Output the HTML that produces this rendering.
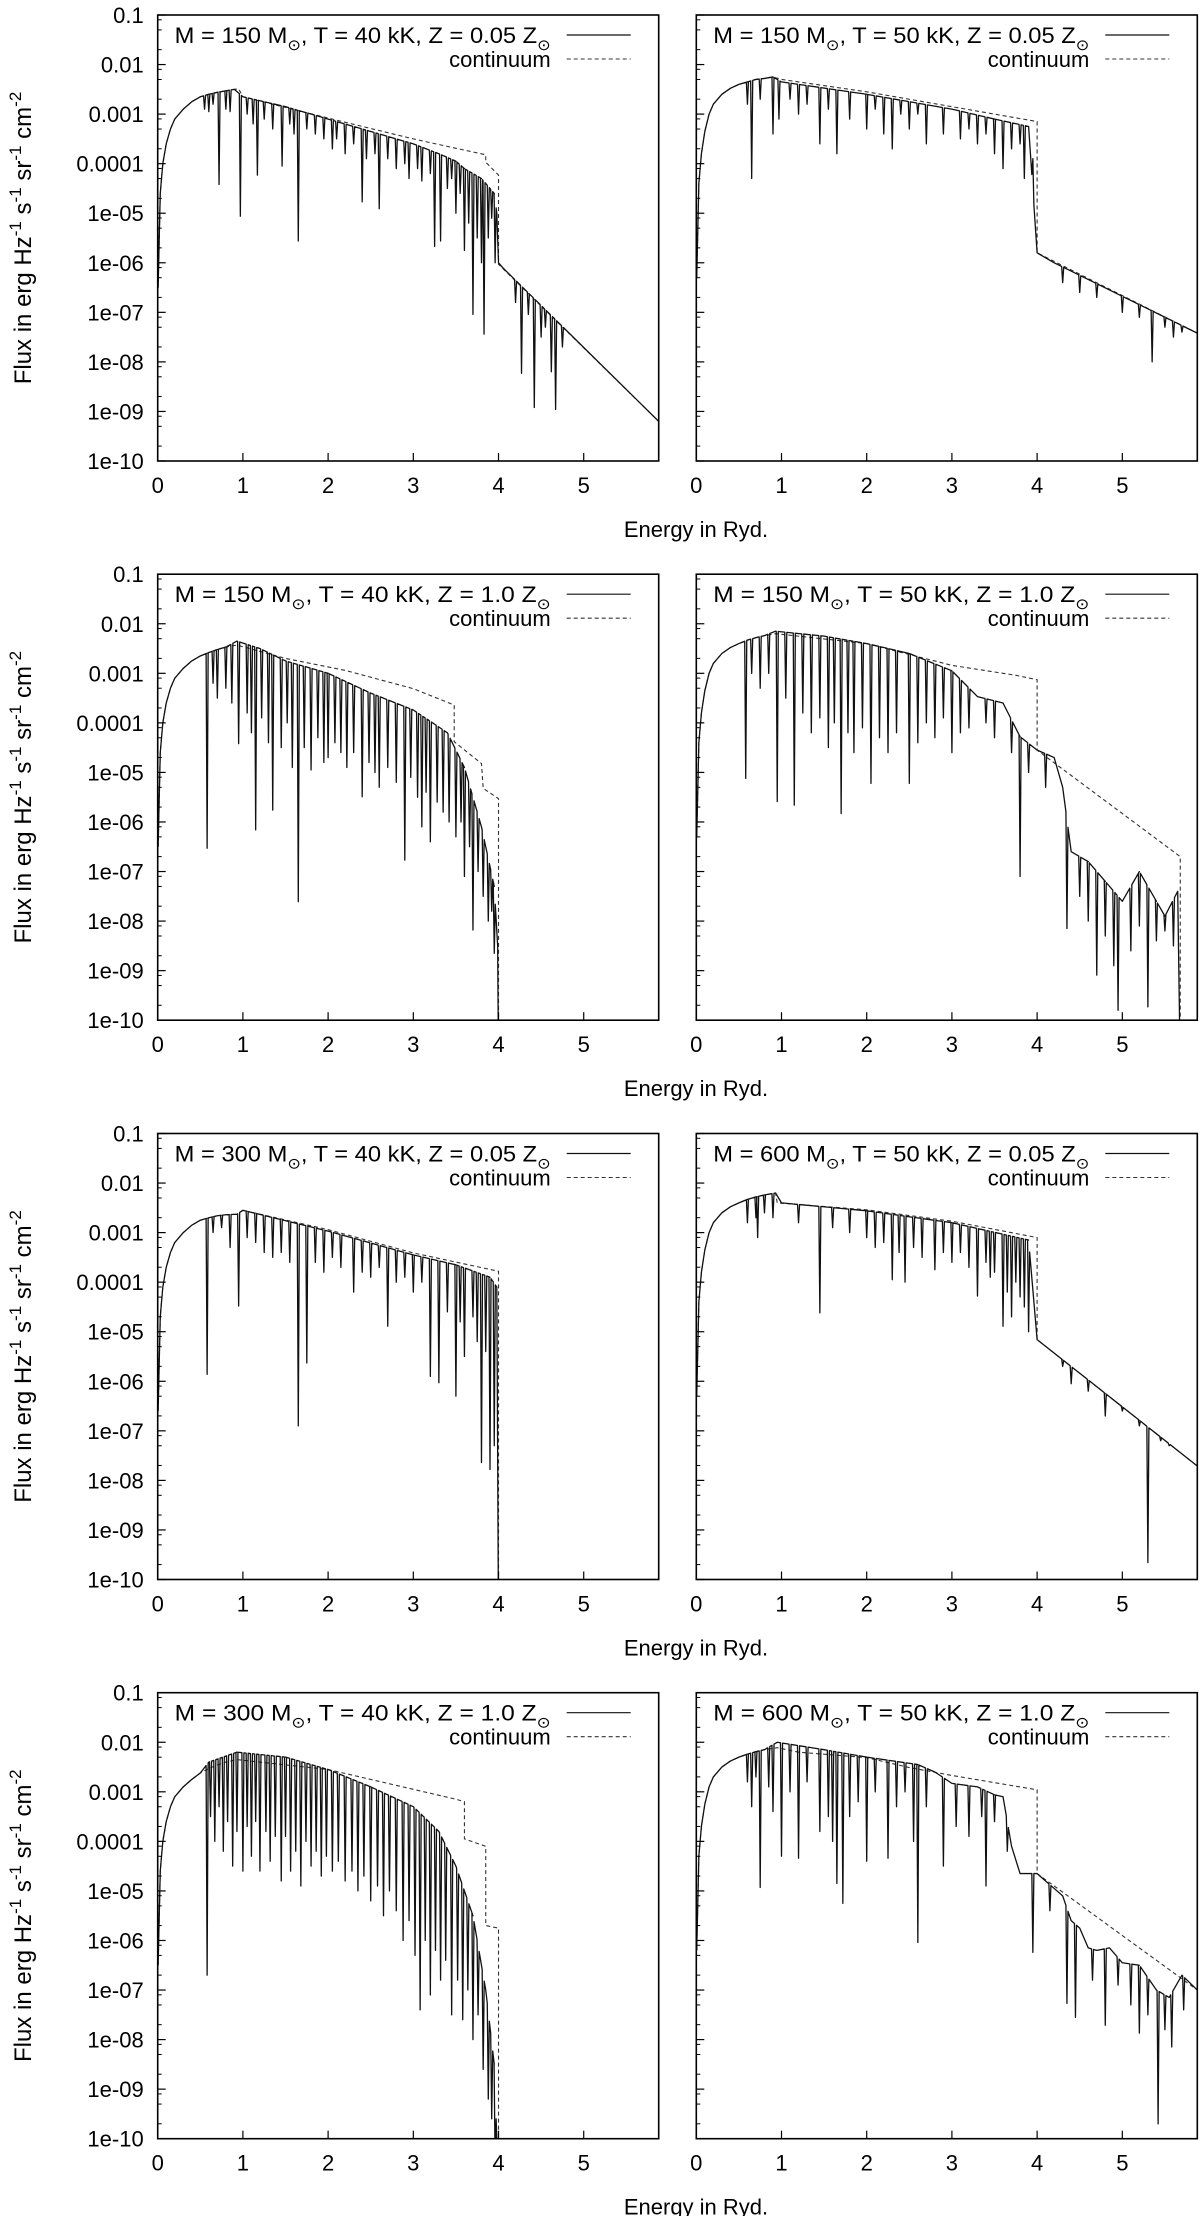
<!DOCTYPE html>
<html><head><meta charset="utf-8">
<style>
html,body{margin:0;padding:0;background:#fff;}
svg{display:block;font-family:"Liberation Sans",sans-serif;}
</style></head>
<body>
<svg id="fig" width="1200" height="2216" viewBox="0 0 1200 2216" xmlns="http://www.w3.org/2000/svg"></svg>
<script>
// ---------- data (E in Ryd, L = log10 flux) ----------
const xTicks=[0,1,2,3,4,5];
const yTickLabels=["0.1","0.01","0.001","0.0001","1e-05","1e-06","1e-07","1e-08","1e-09","1e-10"];
const yTickLogs=[-1,-2,-3,-4,-5,-6,-7,-8,-9,-10];
const panelTitles=[["150","40","0.05"],["150","50","0.05"],["150","40","1.0"],["150","50","1.0"],["300","40","0.05"],["600","50","0.05"],["300","40","1.0"],["600","50","1.0"]];

const p1ContE=[0.005,0.03,0.06,0.1,0.15,0.2,0.3,0.4,0.5,0.6,0.7,0.8,0.9,0.95,1.0,2.0,3.0,3.5,3.85,3.85,4.0,4.0,5.88];
const p1ContL=[-6.5,-4.6,-4.0,-3.6,-3.3,-3.1,-2.9,-2.75,-2.65,-2.6,-2.56,-2.53,-2.5,-2.49,-2.65,-3.08,-3.5,-3.69,-3.82,-3.97,-4.23,-6.03,-9.2];
const p1RidgeE=[0.005,0.03,0.06,0.1,0.15,0.2,0.3,0.4,0.5,0.6,0.7,0.8,0.9,1.0,1.5,2.0,2.5,3.0,3.3,3.5,3.6,3.8,3.95,3.98,4.0,4.05,5.88];
const p1RidgeL=[-6.5,-4.6,-4.0,-3.6,-3.3,-3.1,-2.9,-2.75,-2.65,-2.6,-2.56,-2.53,-2.5,-2.65,-2.85,-3.1,-3.35,-3.6,-3.8,-3.95,-4.1,-4.3,-4.6,-5.0,-6.0,-6.1,-9.2];
const p1DipE=[0.55,0.6,0.65,0.72,0.8,0.85,0.97,1.05,1.12,1.17,1.25,1.35,1.46,1.55,1.6,1.65,1.75,1.85,1.95,2.05,2.1,2.2,2.3,2.4,2.45,2.55,2.6,2.7,2.8,2.9,2.95,3.05,3.1,3.2,3.25,3.32,3.4,3.45,3.5,3.55,3.6,3.65,3.7,3.75,3.8,3.83,3.88,3.92,3.96,4.2,4.27,4.35,4.42,4.5,4.55,4.62,4.67,4.75];
const p1DipL=[-2.9,-2.95,-2.8,-4.42,-2.9,-2.95,-5.06,-3.0,-3.2,-4.23,-3.1,-3.3,-4.05,-3.2,-3.4,-5.56,-3.3,-3.4,-3.5,-3.7,-3.5,-3.8,-3.6,-4.77,-3.9,-3.8,-4.91,-3.9,-4.1,-4.0,-4.3,-4.1,-4.35,-4.2,-5.67,-5.56,-4.5,-4.3,-5.0,-4.6,-5.75,-5.2,-7.04,-5.5,-6.0,-7.44,-5.5,-5.1,-6.0,-6.8,-8.23,-7.04,-8.92,-7.5,-7.3,-8.2,-8.96,-7.7];

const p2ContE=[0.005,0.03,0.06,0.1,0.15,0.2,0.3,0.4,0.5,0.6,0.7,0.8,0.9,1.0,2.0,3.0,4.0,4.0,5.88];
const p2ContL=[-6.3,-4.4,-3.8,-3.35,-3.0,-2.8,-2.6,-2.48,-2.4,-2.35,-2.3,-2.28,-2.25,-2.3,-2.55,-2.85,-3.15,-5.8,-7.42];
const p2RidgeE=[0.005,0.03,0.06,0.1,0.15,0.2,0.3,0.4,0.5,0.6,0.7,0.8,0.9,1.0,2.0,3.0,3.5,3.9,4.0,4.2,5.88];
const p2RidgeL=[-6.3,-4.4,-3.8,-3.35,-3.0,-2.8,-2.6,-2.48,-2.4,-2.35,-2.3,-2.28,-2.25,-2.35,-2.6,-2.9,-3.1,-3.25,-5.8,-6.0,-7.42];
const p2DipE=[0.6,0.65,0.75,0.9,0.97,1.1,1.2,1.3,1.45,1.55,1.65,1.8,2.0,2.1,2.2,2.3,2.4,2.5,2.6,2.7,2.9,3.1,3.2,3.3,3.4,3.5,3.6,3.7,3.8,3.85,3.95,4.3,4.5,4.7,5.0,5.2,5.35,5.5,5.6,5.7];
const p2DipL=[-2.8,-4.3,-2.7,-3.4,-3.1,-2.7,-3.0,-2.8,-3.6,-2.9,-3.8,-3.1,-3.3,-2.9,-3.4,-3.7,-3.0,-3.3,-3.0,-3.6,-3.4,-3.5,-3.3,-3.6,-3.4,-3.8,-4.1,-3.7,-3.6,-4.3,-3.9,-6.4,-6.6,-6.7,-7.0,-7.1,-8.0,-7.3,-7.5,-7.4];

const p3ContE=[0.005,0.03,0.06,0.1,0.15,0.2,0.3,0.4,0.5,0.6,0.7,0.8,0.93,1.5,2.2,3.0,3.48,3.48,3.8,3.82,4.0,4.0];
const p3ContL=[-6.5,-4.6,-4.0,-3.6,-3.3,-3.1,-2.9,-2.75,-2.65,-2.58,-2.52,-2.47,-2.43,-2.7,-2.94,-3.31,-3.64,-4.38,-4.82,-5.32,-5.53,-11];
const p3RidgeE=[0.005,0.03,0.06,0.1,0.15,0.2,0.3,0.4,0.5,0.6,0.7,0.8,0.93,1.2,1.5,2.0,2.5,3.0,3.4,3.6,3.8,3.95,3.99,4.0];
const p3RidgeL=[-6.5,-4.6,-4.0,-3.6,-3.3,-3.1,-2.9,-2.75,-2.65,-2.58,-2.52,-2.47,-2.35,-2.5,-2.75,-3.0,-3.4,-3.74,-4.2,-4.9,-6.1,-7.3,-8.5,-11];
const p3DipE=[0.58,0.65,0.7,0.8,0.87,0.95,1.05,1.1,1.15,1.22,1.3,1.35,1.45,1.52,1.58,1.65,1.72,1.8,1.88,1.95,2.0,2.08,2.15,2.22,2.3,2.4,2.48,2.55,2.6,2.7,2.8,2.9,2.97,3.05,3.1,3.15,3.2,3.28,3.35,3.42,3.5,3.56,3.6,3.66,3.7,3.76,3.82,3.88,3.92,3.95];
const p3DipL=[-6.53,-3.2,-3.5,-3.3,-3.6,-4.42,-3.8,-4.2,-6.16,-3.9,-4.4,-5.76,-4.5,-4.0,-4.9,-7.61,-4.5,-4.95,-4.3,-4.8,-4.7,-4.4,-4.6,-4.9,-4.6,-5.49,-4.8,-5.0,-5.3,-4.9,-5.2,-6.77,-5.1,-5.5,-6.1,-5.4,-6.4,-5.6,-5.8,-6.0,-6.3,-6.0,-7.1,-6.5,-8.18,-7.0,-7.5,-8.0,-7.8,-8.65];

const p4ContE=[0.005,0.03,0.06,0.1,0.15,0.2,0.3,0.4,0.5,0.6,0.7,0.8,0.93,2.0,3.0,3.75,4.0,4.0,5.68,5.68];
const p4ContL=[-6.3,-4.4,-3.8,-3.35,-3.0,-2.8,-2.6,-2.48,-2.4,-2.33,-2.28,-2.24,-2.2,-2.4,-2.84,-3.04,-3.13,-4.55,-6.7,-11];
const p4RidgeE=[0.005,0.03,0.06,0.1,0.15,0.2,0.3,0.4,0.5,0.6,0.7,0.8,0.93,1.5,2.0,2.5,3.0,3.3,3.6,3.8,4.0,4.2,4.3,4.4,4.6,4.8,5.0,5.2,5.4,5.5,5.65,5.68];
const p4RidgeL=[-6.3,-4.4,-3.8,-3.35,-3.0,-2.8,-2.6,-2.48,-2.4,-2.33,-2.28,-2.24,-2.15,-2.25,-2.4,-2.6,-2.95,-3.47,-3.6,-4.28,-4.55,-4.7,-5.3,-6.6,-6.8,-7.2,-7.6,-7.0,-7.6,-7.9,-7.4,-11];
const p4DipE=[0.58,0.65,0.75,0.85,0.95,1.05,1.15,1.25,1.35,1.45,1.55,1.62,1.7,1.78,1.85,1.95,2.05,2.15,2.25,2.35,2.5,2.6,2.7,2.8,2.9,3.0,3.1,3.2,3.4,3.5,3.7,3.8,3.9,4.1,4.35,4.5,4.6,4.7,4.8,4.9,4.95,5.1,5.2,5.3,5.4,5.5,5.6];
const p4DipL=[-5.12,-3.0,-3.3,-3.0,-5.59,-3.5,-5.66,-3.8,-4.2,-3.9,-4.5,-4.0,-5.83,-4.2,-4.6,-4.1,-5.22,-4.3,-4.6,-4.2,-5.22,-4.4,-4.0,-4.3,-3.9,-4.6,-4.2,-4.1,-4.0,-4.3,-4.6,-7.1,-5.0,-5.3,-8.15,-7.5,-8.0,-9.09,-8.3,-8.9,-9.8,-8.6,-8.1,-9.73,-8.4,-8.2,-8.5];

const p5ContE=[0.005,0.03,0.06,0.1,0.15,0.2,0.3,0.4,0.5,0.6,0.7,0.8,0.93,1.0,2.0,3.0,4.0,4.0];
const p5ContL=[-6.6,-4.7,-4.1,-3.7,-3.4,-3.2,-3.0,-2.85,-2.75,-2.7,-2.66,-2.64,-2.63,-2.55,-2.94,-3.41,-3.78,-11];
const p5RidgeE=[0.005,0.03,0.06,0.1,0.15,0.2,0.3,0.4,0.5,0.6,0.7,0.8,0.93,1.0,2.0,3.0,3.5,3.9,3.98,4.0];
const p5RidgeL=[-6.6,-4.7,-4.1,-3.7,-3.4,-3.2,-3.0,-2.85,-2.75,-2.7,-2.66,-2.64,-2.63,-2.55,-2.97,-3.45,-3.65,-3.9,-4.1,-11];
const p5DipE=[0.58,0.65,0.75,0.85,0.95,1.05,1.15,1.25,1.35,1.45,1.55,1.65,1.75,1.85,1.95,2.05,2.15,2.3,2.4,2.5,2.6,2.7,2.8,2.9,3.0,3.1,3.2,3.3,3.4,3.5,3.55,3.6,3.7,3.75,3.8,3.85,3.9,3.95];
const p5DipL=[-5.86,-3.0,-2.9,-3.3,-4.48,-3.1,-3.2,-3.4,-3.5,-3.4,-3.6,-6.9,-5.63,-3.6,-3.8,-3.5,-3.7,-4.2,-3.8,-3.9,-3.7,-4.89,-4.0,-3.9,-4.2,-4.0,-5.9,-6.03,-4.6,-6.3,-4.8,-5.5,-4.7,-5.2,-7.64,-5.4,-7.78,-7.3];

const p6ContE=[0.005,0.03,0.06,0.1,0.15,0.2,0.3,0.4,0.5,0.6,0.7,0.8,0.93,0.95,2.0,3.0,4.0,4.0,5.88];
const p6ContL=[-6.3,-4.4,-3.8,-3.35,-3.0,-2.8,-2.6,-2.48,-2.4,-2.33,-2.28,-2.24,-2.2,-2.4,-2.54,-2.77,-3.1,-5.16,-7.71];
const p6RidgeE=[0.005,0.03,0.06,0.1,0.15,0.2,0.3,0.4,0.5,0.6,0.7,0.8,0.93,1.0,2.0,3.0,3.9,4.0,5.88];
const p6RidgeL=[-6.3,-4.4,-3.8,-3.35,-3.0,-2.8,-2.6,-2.48,-2.4,-2.33,-2.28,-2.24,-2.2,-2.4,-2.56,-2.8,-3.15,-5.16,-7.71];
const p6DipE=[0.6,0.7,0.72,0.8,0.9,1.2,1.45,1.6,1.8,2.0,2.1,2.2,2.3,2.38,2.45,2.55,2.65,2.8,2.9,3.0,3.1,3.2,3.3,3.4,3.45,3.5,3.6,3.65,3.7,3.75,3.8,3.85,3.9,4.3,4.4,4.6,4.8,5.0,5.2,5.3,5.45,5.55];
const p6DipL=[-2.8,-2.7,-3.1,-2.6,-2.7,-2.8,-4.62,-2.9,-3.0,-3.1,-3.3,-3.2,-3.95,-3.4,-4.0,-3.3,-3.5,-3.75,-3.4,-3.6,-3.4,-3.7,-4.28,-3.6,-3.9,-3.8,-4.89,-4.2,-4.7,-4.0,-4.3,-4.5,-5.0,-5.7,-6.05,-6.2,-6.7,-6.6,-6.9,-9.66,-7.2,-7.3];

const p7ContE=[0.005,0.03,0.06,0.1,0.15,0.2,0.3,0.4,0.5,0.6,0.7,0.8,0.93,2.0,3.0,3.5,3.6,3.6,3.85,3.85,4.0,4.0];
const p7ContL=[-6.5,-4.6,-4.0,-3.6,-3.3,-3.1,-2.9,-2.75,-2.62,-2.53,-2.46,-2.4,-2.35,-2.55,-2.95,-3.15,-3.2,-3.95,-4.1,-5.7,-5.75,-11];
const p7RidgeE=[0.005,0.03,0.06,0.1,0.15,0.2,0.3,0.4,0.5,0.6,0.93,1.5,2.0,2.5,3.0,3.3,3.5,3.7,3.85,3.95,4.0];
const p7RidgeL=[-6.5,-4.6,-4.0,-3.6,-3.3,-3.1,-2.9,-2.75,-2.62,-2.4,-2.2,-2.3,-2.55,-2.9,-3.3,-3.8,-4.5,-5.5,-7.0,-8.5,-11];
const p7DipE=[0.58,0.62,0.67,0.72,0.77,0.82,0.88,0.93,1.0,1.05,1.1,1.15,1.2,1.27,1.32,1.38,1.45,1.5,1.56,1.62,1.68,1.74,1.8,1.86,1.92,1.98,2.05,2.12,2.2,2.28,2.35,2.42,2.5,2.58,2.65,2.72,2.8,2.88,2.95,3.02,3.08,3.14,3.2,3.26,3.32,3.38,3.45,3.52,3.58,3.64,3.7,3.76,3.82,3.88,3.92,3.96];
const p7DipL=[-6.7,-3.5,-4.0,-3.3,-4.2,-3.6,-4.5,-3.8,-4.6,-3.7,-4.3,-3.6,-4.6,-3.8,-4.4,-3.9,-4.8,-3.9,-4.6,-4.2,-4.9,-4.0,-4.5,-4.2,-4.7,-4.3,-4.6,-4.4,-4.8,-4.6,-5.0,-4.7,-5.2,-4.9,-5.5,-5.0,-5.4,-6.0,-5.6,-6.3,-7.4,-6.0,-7.1,-6.2,-6.8,-6.4,-7.5,-6.8,-7.6,-7.0,-8.0,-7.5,-8.6,-9.2,-9.6,-10.5];

const p8ContE=[0.005,0.03,0.06,0.1,0.15,0.2,0.3,0.4,0.5,0.6,0.7,0.8,0.95,1.2,2.0,2.5,3.0,4.0,4.0,5.88];
const p8ContL=[-6.2,-4.3,-3.7,-3.25,-2.9,-2.7,-2.5,-2.38,-2.3,-2.24,-2.19,-2.15,-2.11,-2.2,-2.31,-2.51,-2.67,-2.96,-4.65,-7.0];
const p8RidgeE=[0.005,0.03,0.06,0.1,0.15,0.2,0.3,0.4,0.5,0.6,0.7,0.8,0.95,1.5,2.0,2.6,2.8,3.0,3.3,3.5,3.6,3.7,3.8,4.0,4.2,4.3,4.4,4.5,4.6,4.7,4.85,5.0,5.2,5.4,5.55,5.7,5.88];
const p8RidgeL=[-6.2,-4.3,-3.7,-3.25,-2.9,-2.7,-2.5,-2.38,-2.3,-2.24,-2.19,-2.15,-2.0,-2.15,-2.3,-2.45,-2.6,-2.83,-2.9,-3.06,-3.1,-4.1,-4.65,-4.65,-4.95,-5.1,-5.6,-5.75,-6.15,-6.2,-6.15,-6.45,-6.5,-7.0,-7.15,-6.7,-7.0];
const p8DipE=[0.6,0.65,0.7,0.75,0.85,0.9,1.0,1.1,1.2,1.3,1.45,1.55,1.6,1.65,1.72,1.8,1.9,2.0,2.1,2.25,2.35,2.45,2.55,2.6,2.7,2.9,3.05,3.2,3.35,3.4,3.5,3.65,3.95,4.15,4.35,4.45,4.65,4.8,4.95,5.1,5.2,5.3,5.42,5.5,5.58,5.72];
const p8DipL=[-2.8,-3.3,-2.7,-4.93,-2.9,-3.4,-4.3,-3.0,-4.34,-2.8,-3.8,-3.5,-4.0,-4.85,-5.25,-3.5,-3.2,-4.4,-3.0,-4.34,-3.3,-3.0,-4.0,-6.04,-3.3,-4.5,-3.7,-3.9,-3.5,-4.9,-3.6,-4.2,-6.24,-5.4,-7.27,-7.55,-6.8,-7.71,-6.9,-7.3,-7.87,-7.5,-9.7,-7.8,-8.15,-7.4];

const contE=[p1ContE,p2ContE,p3ContE,p4ContE,p5ContE,p6ContE,p7ContE,p8ContE];
const contL=[p1ContL,p2ContL,p3ContL,p4ContL,p5ContL,p6ContL,p7ContL,p8ContL];
const ridgeE=[p1RidgeE,p2RidgeE,p3RidgeE,p4RidgeE,p5RidgeE,p6RidgeE,p7RidgeE,p8RidgeE];
const ridgeL=[p1RidgeL,p2RidgeL,p3RidgeL,p4RidgeL,p5RidgeL,p6RidgeL,p7RidgeL,p8RidgeL];
const dipE=[p1DipE,p2DipE,p3DipE,p4DipE,p5DipE,p6DipE,p7DipE,p8DipE];
const dipL=[p1DipL,p2DipL,p3DipL,p4DipL,p5DipL,p6DipL,p7DipL,p8DipL];

// ---------- layout ----------
const NS="http://www.w3.org/2000/svg";
const svg=document.getElementById('fig');
const colX=[157.7,696.3];
const rowY=[15,574.2,1133.5,1692.7];
const PW=501, PH=446, XMAX=5.88, YTOP=-1, YBOT=-10;

function mk(tag,attrs,parent){const e=document.createElementNS(NS,tag);for(const k in attrs)e.setAttribute(k,attrs[k]);(parent||svg).appendChild(e);return e;}
function interp(xs,ys,x){
  if(x<=xs[0])return ys[0];
  for(let i=1;i<xs.length;i++){if(x<=xs[i]){const d=xs[i]-xs[i-1];if(d===0)return ys[i];return ys[i-1]+(ys[i]-ys[i-1])*(x-xs[i-1])/d;}}
  return ys[ys.length-1];
}

for(let p=0;p<8;p++){
  const x0=colX[p%2], y0=rowY[Math.floor(p/2)];
  const sx=e=>x0+e/XMAX*PW;
  const sy=l=>y0+(YTOP-l)/(YTOP-YBOT)*PH;
  const g=mk('g',{});
  
  
  const cp=mk('clipPath',{id:'clip'+p},g);
  mk('rect',{x:x0,y:y0,width:PW,height:PH},cp);

  let d='';
  contE[p].forEach((e,i)=>{d+=(i?'L':'M')+sx(e).toFixed(2)+','+sy(contL[p][i]).toFixed(2);});
  const cpath=mk('path',{d:d,fill:'none',stroke:'#333','stroke-width':1.1,'stroke-dasharray':'4,3','clip-path':'url(#clip'+p+')'},g);
  
  

  const ev=[];
  ridgeE[p].forEach((e,i)=>ev.push([e,ridgeL[p][i],0]));
  dipE[p].forEach((e,i)=>ev.push([e,dipL[p][i],1]));
  ev.sort((a,b)=>a[0]-b[0]||a[2]-b[2]);
  let s='';let first=true;const hw=0.012;
  ev.forEach(v=>{
    if(v[2]===0){s+=(first?'M':'L')+sx(v[0]).toFixed(2)+','+sy(v[1]).toFixed(2);first=false;}
    else{
      const a=interp(ridgeE[p],ridgeL[p],v[0]-hw), b=interp(ridgeE[p],ridgeL[p],v[0]+hw);
      s+='L'+sx(v[0]-hw).toFixed(2)+','+sy(a).toFixed(2)+'L'+sx(v[0]).toFixed(2)+','+sy(v[1]).toFixed(2)+'L'+sx(v[0]+hw).toFixed(2)+','+sy(b).toFixed(2);
    }
  });
  const spath=mk('path',{d:s,fill:'none',stroke:'#111','stroke-width':1.3,'stroke-linejoin':'round','clip-path':'url(#clip'+p+')'},g);
  
  

  const fr=mk('rect',{x:x0,y:y0,width:PW,height:PH,fill:'none',stroke:'#000','stroke-width':1.6},g);
  
  

  yTickLogs.forEach((l,i)=>{
    mk('line',{x1:x0,x2:x0+8,y1:sy(l),y2:sy(l),stroke:'#000','stroke-width':1.2},g);
    if(l>YBOT){[2,5,8].forEach(m=>{const yy=sy(l-1+Math.log10(m));mk('line',{x1:x0,x2:x0+4,y1:yy,y2:yy,stroke:'#000','stroke-width':1},g);});}
    if(p%2===0){
      const t=mk('text',{x:x0-14,y:sy(l)+8,'text-anchor':'end','font-size':22,fill:'#000'},g);
      t.textContent=yTickLabels[i];
      
      
    }
  });
  xTicks.forEach(v=>{
    mk('line',{x1:sx(v),x2:sx(v),y1:y0+PH,y2:y0+PH-8,stroke:'#000','stroke-width':1.2},g);
    const t=mk('text',{x:sx(v),y:y0+PH+32,'text-anchor':'middle','font-size':22,fill:'#000'},g);
    t.textContent=String(v);
    
    
  });

  const tt=panelTitles[p];
  const lt=mk('text',{x:x0+393,y:y0+28,'text-anchor':'end','font-size':22,fill:'#000',textLength:376,lengthAdjust:'spacingAndGlyphs'},g);
  lt.innerHTML='M = '+tt[0]+' M<tspan font-size="15" dy="7">\u2299</tspan><tspan dy="-7">, T = '+tt[1]+' kK, Z = '+tt[2]+' Z</tspan><tspan font-size="15" dy="7">\u2299</tspan>';
  
  
  const ll=mk('line',{x1:x0+409,x2:x0+473,y1:y0+20,y2:y0+20,stroke:'#111','stroke-width':1.2},g);
  
  
  const lc=mk('text',{x:x0+393,y:y0+52,'text-anchor':'end','font-size':22,fill:'#000'},g);
  lc.textContent='continuum';
  
  
  const lcl=mk('line',{x1:x0+409,x2:x0+473,y1:y0+44,y2:y0+44,stroke:'#333','stroke-width':1.1,'stroke-dasharray':'4,3'},g);
  
  
}

for(let r=0;r<4;r++){
  const y0=rowY[r];
  const xt=mk('text',{x:696,y:y0+PH+76,'text-anchor':'middle','font-size':22,fill:'#000'});
  xt.textContent='Energy in Ryd.';
  
  
  const cy=y0+PH/2;
  const yt=mk('text',{x:0,y:0,'text-anchor':'middle','font-size':24,fill:'#000',transform:'translate(31,'+cy+') rotate(-90)'});
  yt.innerHTML='Flux in erg Hz<tspan font-size="17" dy="-10">-1</tspan><tspan dy="10"> s</tspan><tspan font-size="17" dy="-10">-1</tspan><tspan dy="10"> sr</tspan><tspan font-size="17" dy="-10">-1</tspan><tspan dy="10"> cm</tspan><tspan font-size="17" dy="-10">-2</tspan>';
  
  
}
</script>
</body></html>
